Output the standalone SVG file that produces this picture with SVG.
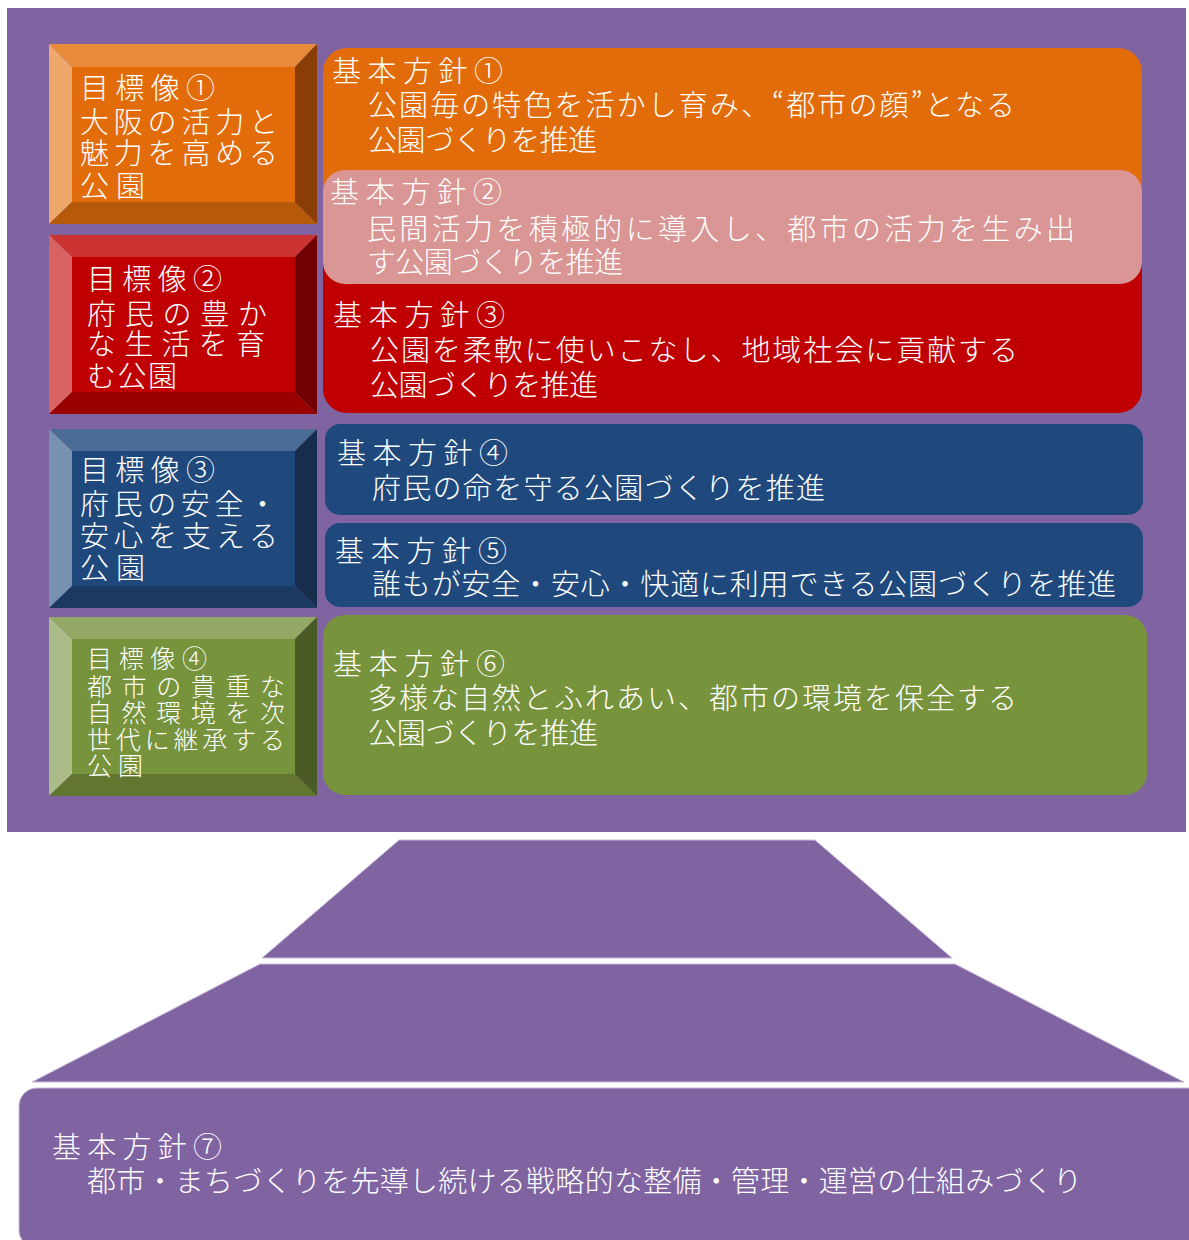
<svg xmlns="http://www.w3.org/2000/svg" width="1189" height="1240" viewBox="0 0 1189 1240" lang="ja">
<defs>
<style>
text{font-family:"Noto Sans CJK JP","Noto Sans",sans-serif;fill:#ffffff;font-weight:300;}
.g{font-size:29px;}
.s{font-size:25px;}
.bg{fill:#8064A2;}
.edge{stroke:#C8BCD8;stroke-width:1;}
</style>
</defs>
<rect x="0" y="0" width="1189" height="1240" fill="#ffffff"/>
<rect class="bg" x="7" y="8" width="1179" height="824"/>

<!-- Goal boxes (bevel) -->
<g id="goal1">
<polygon points="49,44 317,44 295,67 72,67" fill="#E88A3A"/>
<polygon points="49,44 72,67 72,202 49,224" fill="#EEA86C"/>
<polygon points="317,44 317,224 295,202 295,67" fill="#8A3E06"/>
<polygon points="49,224 317,224 295,202 72,202" fill="#B65A0A"/>
<rect x="72" y="67" width="223" height="135" fill="#E36C0A"/>
<text class="g" x="80" y="99" textLength="135">目標像①</text>
<text class="g" x="80" y="133" textLength="198">大阪の活力と</text>
<text class="g" x="80" y="164" textLength="198">魅力を高める</text>
<text class="g" x="80" y="197" textLength="65">公園</text>
</g>
<g id="goal2">
<polygon points="49,235 317,235 295,257 72,257" fill="#CC3333"/>
<polygon points="49,235 72,257 72,392 49,414" fill="#D96262"/>
<polygon points="317,235 317,414 295,392 295,257" fill="#700000"/>
<polygon points="49,414 317,414 295,392 72,392" fill="#990000"/>
<rect x="72" y="257" width="223" height="135" fill="#C00000"/>
<text class="g" x="87" y="290" textLength="135">目標像②</text>
<text class="g" x="87" y="325" textLength="180">府民の豊か</text>
<text class="g" x="87" y="355" textLength="178">な生活を育</text>
<text class="g" x="87" y="387" textLength="90">む公園</text>
</g>
<g id="goal3">
<polygon points="49,429 317,429 295,451 72,451" fill="#4B6C95"/>
<polygon points="49,429 72,451 72,586 49,608" fill="#7891B1"/>
<polygon points="317,429 317,608 295,586 295,451" fill="#162D4D"/>
<polygon points="49,608 317,608 295,586 72,586" fill="#1B3A61"/>
<rect x="72" y="451" width="223" height="135" fill="#1F497D"/>
<text class="g" x="80" y="481" textLength="135">目標像③</text>
<text class="g" x="80" y="515" textLength="197">府民の安全・</text>
<text class="g" x="80" y="547" textLength="198">安心を支える</text>
<text class="g" x="80" y="579" textLength="65">公園</text>
</g>
<g id="goal4">
<polygon points="49,617 317,617 295,639 72,639" fill="#93A864"/>
<polygon points="49,617 72,639 72,774 49,796" fill="#ABBC89"/>
<polygon points="317,617 317,796 295,774 295,639" fill="#4A5B25"/>
<polygon points="49,796 317,796 295,774 72,774" fill="#627630"/>
<rect x="72" y="639" width="223" height="135" fill="#77933C"/>
<text class="s" x="87" y="668" textLength="120">目標像④</text>
<text class="s" x="87" y="696" textLength="198">都市の貴重な</text>
<text class="s" x="87" y="722" textLength="198">自然環境を次</text>
<text class="s" x="87" y="749" textLength="198">世代に継承する</text>
<text class="s" x="87" y="775" textLength="56">公園</text>
</g>

<!-- Policy boxes -->
<g id="policy1">
<rect x="323" y="48" width="819" height="190" rx="24" fill="#E36C0A"/>
<text class="g" x="332" y="82" textLength="171">基本方針①</text>
<text class="g" x="368" y="116" textLength="647">公園毎の特色を活かし育み、“都市の顔”となる</text>
<text class="g" x="368" y="151" textLength="229">公園づくりを推進</text>
</g>
<g id="policy3">
<rect x="323" y="220" width="819" height="193" rx="24" fill="#C00000"/>
<text class="g" x="333" y="326" textLength="172">基本方針③</text>
<text class="g" x="370" y="361" textLength="648">公園を柔軟に使いこなし、地域社会に貢献する</text>
<text class="g" x="370" y="396" textLength="228">公園づくりを推進</text>
</g>
<g id="policy2">
<rect x="323" y="170" width="819" height="114" rx="22" fill="#D99694"/>
<text class="g" x="330" y="203" textLength="172">基本方針②</text>
<text class="g" x="367" y="240" textLength="708">民間活力を積極的に導入し、都市の活力を生み出</text>
<text class="g" x="367" y="273" textLength="256">す公園づくりを推進</text>
</g>
<g id="policy4">
<rect x="325" y="424" width="818" height="91" rx="15" fill="#1F497D"/>
<text class="g" x="337" y="464" textLength="171">基本方針④</text>
<text class="g" x="372" y="499" textLength="453">府民の命を守る公園づくりを推進</text>
</g>
<g id="policy5">
<rect x="325" y="523" width="818" height="84" rx="15" fill="#1F497D"/>
<text class="g" x="335" y="562" textLength="172">基本方針⑤</text>
<text class="g" x="372" y="595" textLength="744">誰もが安全・安心・快適に利用できる公園づくりを推進</text>
</g>
<g id="policy6">
<rect x="323" y="615" width="824" height="180" rx="22" fill="#77933C"/>
<text class="g" x="333" y="675" textLength="172">基本方針⑥</text>
<text class="g" x="368" y="709" textLength="649">多様な自然とふれあい、都市の環境を保全する</text>
<text class="g" x="368" y="744" textLength="230">公園づくりを推進</text>
</g>

<!-- Pyramid base -->
<g id="tier1">
<polygon class="bg edge" points="399,840 815,840 952,958 262,958"/>
</g>
<g id="tier2">
<polygon class="bg edge" points="260,964 955,964 1184,1082 32,1082"/>
</g>
<g id="policy7">
<rect class="bg edge" x="19" y="1088" width="1200" height="160" rx="18"/>
<text class="g" x="52" y="1158" textLength="170">基本方針⑦</text>
<text class="g" x="87" y="1192" textLength="995">都市・まちづくりを先導し続ける戦略的な整備・管理・運営の仕組みづくり</text>
</g>
<g id="connectors"></g>
</svg>
